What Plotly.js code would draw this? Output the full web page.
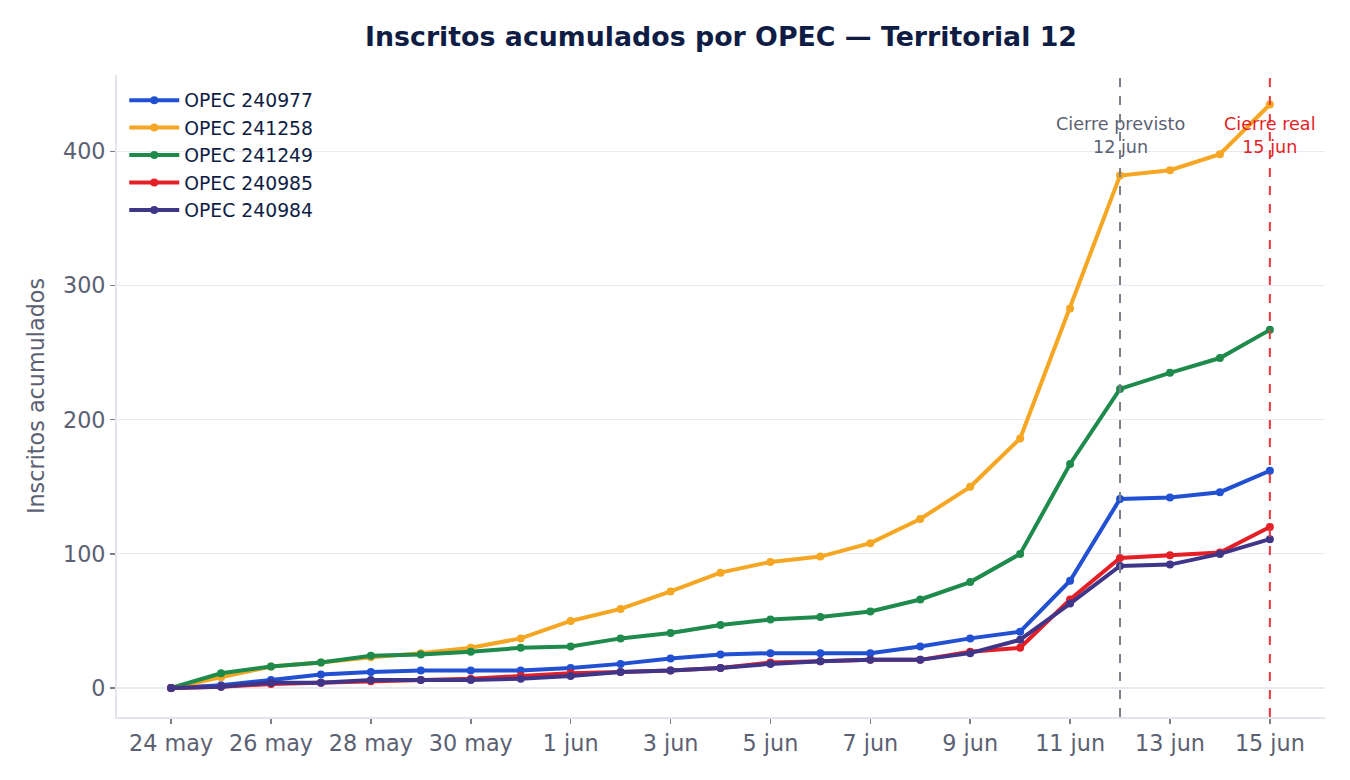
<!DOCTYPE html>
<html>
<head>
<meta charset="utf-8">
<script src="https://cdn.plot.ly/plotly-3.0.1.min.js"></script>
<style>
  html, body { margin: 0; padding: 0; background: #ffffff; }
  #chart { width: 1350px; height: 780px; }
</style>
</head>
<body>
<div id="chart"></div>
<script>
// Fechas diarias del periodo de inscripción
const fechas = [
  "2024-05-24", "2024-05-25", "2024-05-26", "2024-05-27", "2024-05-28",
  "2024-05-29", "2024-05-30", "2024-05-31", "2024-06-01", "2024-06-02",
  "2024-06-03", "2024-06-04", "2024-06-05", "2024-06-06", "2024-06-07",
  "2024-06-08", "2024-06-09", "2024-06-10", "2024-06-11", "2024-06-12",
  "2024-06-13", "2024-06-14", "2024-06-15"
];

// Inscritos acumulados por OPEC
const opec240977 = [0, 2, 6, 10, 12, 13, 13, 13, 15, 18, 22, 25, 26, 26, 26, 31, 37, 42, 80, 141, 142, 146, 162];
const opec241258 = [0, 8, 16, 19, 23, 26, 30, 37, 50, 59, 72, 86, 94, 98, 108, 126, 150, 186, 283, 382, 386, 398, 435];
const opec241249 = [0, 11, 16, 19, 24, 25, 27, 30, 31, 37, 41, 47, 51, 53, 57, 66, 79, 100, 167, 223, 235, 246, 267];
const opec240985 = [0, 1, 3, 4, 5, 6, 7, 9, 11, 12, 13, 15, 19, 20, 21, 21, 27, 30, 66, 97, 99, 101, 120];
const opec240984 = [0, 1, 4, 4, 6, 6, 6, 7, 9, 12, 13, 15, 18, 20, 21, 21, 26, 36, 63, 91, 92, 100, 111];

const nombres = ["OPEC 240977", "OPEC 241258", "OPEC 241249", "OPEC 240985", "OPEC 240984"];
const colores = ["#2150d2", "#f5a623", "#1e8b4c", "#e41f26", "#3f3589"];

// Etiquetas del eje X (cada dos días)
const ticksX = ["2024-05-24", "2024-05-26", "2024-05-28", "2024-05-30", "2024-06-01", "2024-06-03",
                "2024-06-05", "2024-06-07", "2024-06-09", "2024-06-11", "2024-06-13", "2024-06-15"];
const etiquetasX = ["24 may", "26 may", "28 may", "30 may", "1 jun", "3 jun",
                    "5 jun", "7 jun", "9 jun", "11 jun", "13 jun", "15 jun"];

const cierrePrevisto = "2024-06-12";
const cierreReal = "2024-06-15";

const series = [opec240977, opec241258, opec241249, opec240985, opec240984];
const traces = series.map((ys, i) => ({
  x: fechas,
  y: ys,
  name: nombres[i],
  type: "scatter",
  mode: "lines+markers",
  line: { color: colores[i], width: 4 },
  marker: { color: colores[i], size: 8 }
}));

const fuente = "DejaVu Sans, sans-serif";
const gris = "#5b6172";

const layout = {
  width: 1350,
  height: 780,
  paper_bgcolor: "#ffffff",
  plot_bgcolor: "#ffffff",
  margin: { l: 117, r: 25, t: 75, b: 63 },
  font: { family: fuente, color: gris },
  title: {
    text: "<b>Inscritos acumulados por OPEC — Territorial 12</b>",
    font: { family: fuente, size: 26.8, color: "#0f1d45" },
    xref: "paper", x: 0.5, xanchor: "center", y: 0.953, yanchor: "middle"
  },
  xaxis: {
    type: "date",
    range: ["2024-05-22 22:00", "2024-06-16 02:30"],
    tickvals: ticksX,
    ticktext: etiquetasX,
    tickfont: { size: 22.3, color: gris },
    ticks: "outside", ticklen: 5, tickwidth: 1.5, tickcolor: "#7a7f8a",
    showgrid: false,
    showline: true, linecolor: "#e4e4ec", linewidth: 2,
    zeroline: false
  },
  yaxis: {
    range: [-21.6, 457],
    tickvals: [0, 100, 200, 300, 400],
    tickfont: { size: 22.3, color: gris },
    ticks: "outside", ticklen: 5, tickwidth: 1.5, tickcolor: "#7a7f8a",
    showgrid: true, gridcolor: "#e9e9ef", gridwidth: 1.2,
    showline: true, linecolor: "#e4e4ec", linewidth: 2,
    zeroline: false,
    title: { text: "Inscritos acumulados", font: { size: 22.3, color: gris }, standoff: 12 }
  },
  legend: {
    x: 0.006, y: 0.99, xanchor: "left", yanchor: "top",
    bgcolor: "rgba(255,255,255,0)",
    font: { family: fuente, size: 18.8, color: "#0f1d45" },
    tracegroupgap: 0, itemwidth: 50
  },
  shapes: [
    { type: "line", xref: "x", yref: "paper", x0: cierrePrevisto, x1: cierrePrevisto, y0: 0, y1: 1,
      line: { color: "#7a7f8a", width: 2, dash: "dash" } },
    { type: "line", xref: "x", yref: "paper", x0: cierreReal, x1: cierreReal, y0: 0, y1: 1,
      line: { color: "#e8383d", width: 2, dash: "dash" } }
  ],
  annotations: [
    { x: cierrePrevisto, xref: "x", y: 0.905, yref: "paper", yanchor: "middle", text: "Cierre previsto<br>12 jun",
      showarrow: false, font: { family: fuente, size: 17.6, color: "#5b6172" }, align: "center" },
    { x: cierreReal, xref: "x", y: 0.905, yref: "paper", yanchor: "middle", text: "Cierre real<br>15 jun",
      showarrow: false, font: { family: fuente, size: 17.6, color: "#e41f26" }, align: "center" }
  ]
};

Plotly.newPlot("chart", traces, layout, { displayModeBar: false, staticPlot: true });
</script>
</body>
</html>
